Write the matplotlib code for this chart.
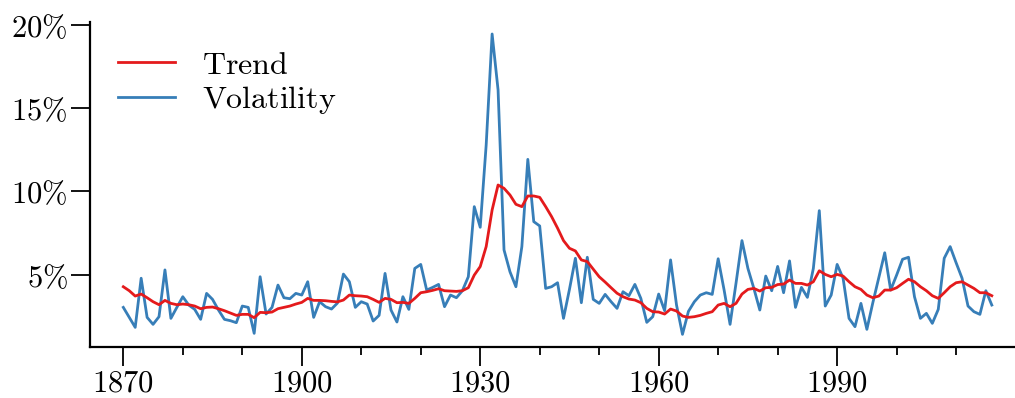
import matplotlib
matplotlib.use("Agg")
import matplotlib.pyplot as plt
from matplotlib.ticker import MultipleLocator, FuncFormatter

plt.rcParams['mathtext.fontset'] = 'cm'
plt.rcParams['font.family'] = ['DejaVu Serif']

years = list(range(1870, 2017))

volatility = [
    3.04, 2.44, 1.84, 4.79, 2.44, 2.02, 2.48, 5.29, 2.38, 3.04,
    3.68, 3.18, 2.92, 2.32, 3.88, 3.52, 2.88, 2.32, 2.24, 2.12,
    3.12, 3.04, 1.48, 4.88, 2.64, 3.04, 4.38, 3.62, 3.56, 3.88,
    3.78, 4.58, 2.44, 3.38, 3.08, 2.94, 3.30, 5.04, 4.58, 3.04,
    3.38, 3.24, 2.22, 2.56, 5.08, 2.88, 2.16, 3.68, 2.92, 5.38,
    5.62, 4.08, 4.24, 4.42, 3.08, 3.78, 3.62, 4.04, 4.88, 9.09,
    7.85, 12.79, 19.46, 16.10, 6.49, 5.18, 4.28, 6.69, 11.93, 8.19,
    7.93, 4.18, 4.28, 4.52, 2.38, 4.12, 5.99, 3.32, 6.05, 3.52,
    3.28, 3.82, 3.38, 2.98, 3.98, 3.74, 4.42, 3.58, 2.14, 2.48,
    3.84, 2.84, 5.89, 3.18, 1.42, 2.80, 3.38, 3.78, 3.92, 3.82,
    5.96, 4.08, 2.02, 4.49, 7.05, 5.38, 4.18, 2.88, 4.92, 4.04,
    5.50, 3.92, 5.83, 3.04, 4.24, 3.64, 5.38, 8.85, 3.12, 3.78,
    5.62, 4.79, 2.38, 1.88, 3.28, 1.72, 3.32, 4.82, 6.32, 4.08,
    4.98, 5.93, 6.05, 3.68, 2.38, 2.68, 2.08, 2.92, 5.99, 6.69,
    5.72, 4.79, 3.12, 2.78, 2.62, 4.04, 3.18,
]

trend = [
    4.28, 4.04, 3.72, 3.84, 3.62, 3.38, 3.20, 3.46, 3.28, 3.20,
    3.24, 3.20, 3.12, 2.96, 3.04, 3.06, 2.96, 2.84, 2.70, 2.56,
    2.62, 2.62, 2.42, 2.74, 2.72, 2.76, 2.96, 3.04, 3.12, 3.24,
    3.34, 3.58, 3.46, 3.46, 3.44, 3.40, 3.37, 3.48, 3.78, 3.74,
    3.72, 3.68, 3.52, 3.34, 3.58, 3.52, 3.32, 3.34, 3.28, 3.58,
    3.92, 3.98, 4.06, 4.16, 4.04, 4.02, 4.00, 4.04, 4.22, 4.98,
    5.49, 6.69, 8.89, 10.39, 10.19, 9.79, 9.23, 9.09, 9.73, 9.73,
    9.65, 9.09, 8.49, 7.80, 7.05, 6.59, 6.43, 5.89, 5.79, 5.33,
    4.88, 4.56, 4.22, 3.89, 3.68, 3.54, 3.48, 3.32, 2.98, 2.78,
    2.76, 2.64, 2.94, 2.82, 2.52, 2.44, 2.48, 2.56, 2.68, 2.78,
    3.18, 3.28, 3.08, 3.28, 3.84, 4.12, 4.18, 4.02, 4.22, 4.24,
    4.41, 4.44, 4.68, 4.48, 4.48, 4.38, 4.58, 5.24, 5.02, 4.88,
    5.02, 4.92, 4.58, 4.28, 4.12, 3.78, 3.62, 3.72, 4.08, 4.08,
    4.22, 4.48, 4.73, 4.58, 4.28, 4.04, 3.74, 3.58, 3.92, 4.28,
    4.52, 4.58, 4.38, 4.18, 3.92, 3.92, 3.74,
]

xticks_major = [1870, 1900, 1930, 1960, 1990]
yticks_major = [5, 10, 15, 20]

fig = plt.figure(figsize=(10.15, 3.98), dpi=100)
ax = fig.add_axes([90 / 1015, 51 / 398, 925 / 1015, 325 / 398])

ax.plot(years, volatility, color='#377eb8', lw=2.0, label=r'$\mathrm{Volatility}$', zorder=2)
ax.plot(years, trend, color='#e41a1c', lw=2.0, label=r'$\mathrm{Trend}$', zorder=3)

ax.set_xlim(1864.4, 2019.9)
ax.set_ylim(0.66, 20.18)

ax.set_xticks(xticks_major)
ax.xaxis.set_major_formatter(FuncFormatter(lambda v, p: r'$%d$' % int(v)))
ax.xaxis.set_minor_locator(MultipleLocator(10))
ax.set_yticks(yticks_major)
ax.yaxis.set_major_formatter(FuncFormatter(lambda v, p: r'$%d\%%$' % int(v)))

for s in ['top', 'right']:
    ax.spines[s].set_visible(False)
for s in ['left', 'bottom']:
    ax.spines[s].set_linewidth(1.6)

ax.tick_params(axis='both', which='major', length=14, width=1.3, labelsize=22, direction='out')
ax.tick_params(axis='x', which='major', pad=0.5)
ax.tick_params(axis='y', which='major', pad=2)
ax.tick_params(axis='x', which='minor', length=6, width=1.3, direction='out')

handles, labels = ax.get_legend_handles_labels()
leg = ax.legend([handles[1], handles[0]], [labels[1], labels[0]],
                loc='upper left', bbox_to_anchor=(0.03, 0.915), frameon=False,
                fontsize=23, handlelength=1.8, handletextpad=0.85,
                labelspacing=0.1, borderpad=0, borderaxespad=0)

fig.savefig('out.png', dpi=100)
